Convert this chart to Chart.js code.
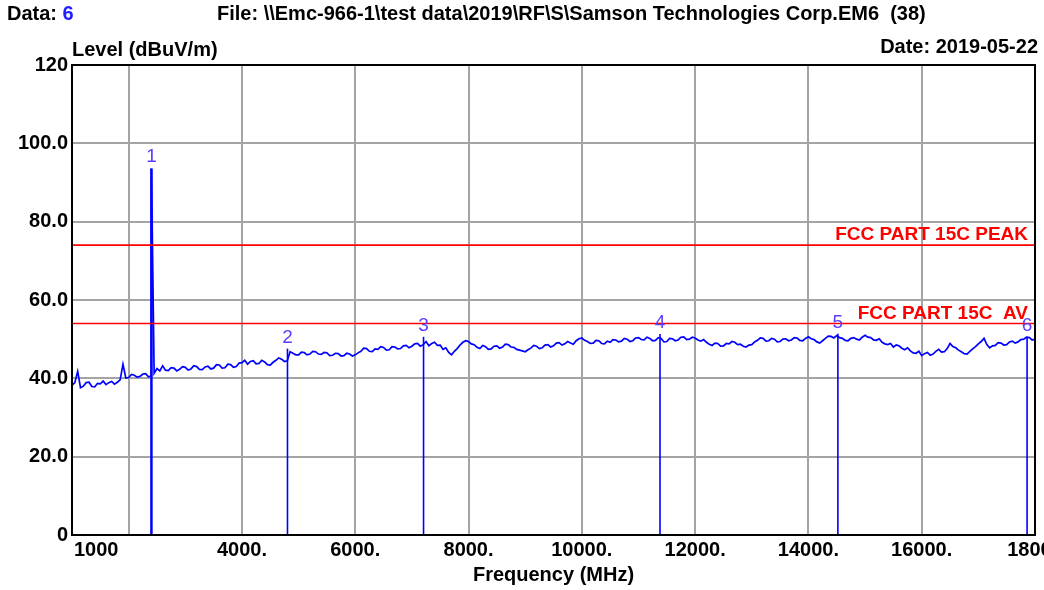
<!DOCTYPE html>
<html>
<head>
<meta charset="utf-8">
<script src="https://cdn.jsdelivr.net/npm/chart.js@4"></script>
<style>
  html, body { margin: 0; padding: 0; background: #fff; }
  #wrap { width: 1044px; height: 590px; }
</style>
</head>
<body>
<div id="wrap"><canvas id="emcChart" width="1044" height="590"></canvas></div>
<script>
// sweep: 1000 - 18000 MHz, one reading every 50 MHz (one row = 1 GHz)
const sweepStart = 1000;
const sweepStep = 50;
const traceLevel = [
  38.2, 38.9, 41.8, 37.6, 38.0, 38.9, 39.0, 37.9, 37.8, 38.7, 38.6, 39.3, 38.4, 38.9, 39.2, 38.5, 39.0, 39.6, 43.6, 40.1,
  40.2, 41.0, 40.8, 40.3, 40.5, 41.1, 41.2, 40.4, 40.6, 41.3, 42.5, 41.9, 43.2, 42.1, 42.0, 42.7, 42.6, 41.9, 42.3, 43.0,
  42.8, 42.1, 42.4, 43.2, 43.0, 42.3, 42.2, 42.9, 43.1, 42.4, 42.6, 43.5, 43.4, 42.6, 42.7, 43.6, 43.5, 42.8, 43.0, 43.9,
  44.0, 44.6, 43.6, 44.3, 44.5, 43.7, 43.8, 44.6, 44.2, 43.5, 43.4, 44.1, 44.6, 45.2, 44.9, 44.3, 44.5, 46.8, 46.4, 46.0,
  46.0, 46.7, 46.6, 46.0, 46.2, 46.9, 46.8, 46.2, 46.1, 46.6, 46.5, 45.8, 45.9, 46.4, 46.3, 45.7, 45.8, 46.4, 46.2, 45.7,
  46.0, 46.5, 46.9, 47.7, 47.6, 46.9, 46.8, 47.5, 47.4, 48.1, 47.9, 47.2, 47.3, 48.1, 48.0, 47.5, 47.6, 48.3, 48.4, 47.8,
  48.2, 48.8, 48.9, 48.2, 48.6, 49.4, 48.3, 48.9, 49.2, 48.4, 48.5, 47.4, 47.8, 46.6, 46.0, 46.9, 47.6, 48.5, 49.2, 49.6,
  49.4, 48.8, 48.6, 47.9, 47.6, 48.4, 48.1, 47.4, 47.5, 48.2, 48.3, 47.7, 48.0, 48.7, 48.6, 48.0, 47.9, 47.4, 47.2, 47.0,
  46.8, 47.3, 47.7, 48.4, 48.2, 47.6, 47.8, 48.5, 48.6, 48.0, 48.3, 49.0, 49.1, 48.5, 48.8, 49.4, 49.0, 48.7, 49.6, 50.1,
  50.3, 49.7, 49.4, 48.9, 49.0, 49.7, 49.6, 48.9, 48.8, 49.5, 49.2, 49.9, 49.8, 49.3, 49.5, 50.2, 50.0, 49.4, 49.6, 50.3,
  50.4, 49.9, 49.8, 50.5, 50.2, 49.6, 49.7, 50.4, 50.2, 49.3, 49.4, 50.2, 50.1, 49.6, 49.8, 50.5, 50.6, 49.9, 50.0, 50.5,
  50.3, 49.8, 49.5, 49.9, 49.2, 48.7, 48.4, 49.0, 48.9, 48.2, 48.3, 48.9, 48.8, 49.4, 49.2, 48.6, 48.7, 48.2, 48.0, 48.5,
  48.6, 49.3, 49.7, 50.3, 50.2, 49.5, 49.6, 50.2, 50.0, 49.3, 49.4, 50.0, 50.1, 49.6, 49.8, 50.4, 50.3, 49.7, 49.6, 50.2,
  50.6, 50.1, 49.9, 49.3, 49.0, 49.6, 50.2, 50.8, 50.7, 50.3, 50.9, 50.4, 50.2, 49.7, 49.6, 50.2, 50.4, 50.0, 49.8, 50.5,
  51.0, 50.5, 50.4, 49.8, 49.7, 50.1, 49.2, 48.8, 48.6, 48.9, 48.0, 48.5, 48.3, 47.7, 47.3, 47.8, 47.0, 46.5, 46.4, 46.9,
  45.8, 46.3, 46.6, 45.9, 46.2, 46.9, 47.4, 46.7, 46.8, 47.6, 48.9, 48.1, 47.8, 47.2, 46.8, 46.3, 46.2, 46.9, 47.5, 48.1,
  48.8, 49.4, 50.2, 48.6, 47.8, 48.3, 48.4, 49.1, 49.0, 48.5, 48.6, 49.3, 49.5, 49.0, 49.3, 49.9, 50.0, 50.5, 50.4, 49.8,
  50.0
];

// markers 1..6
const markerFreq = [2402, 4804, 7206, 11380, 14520, 17860];
const markerLevel = [93.6, 47.6, 50.6, 51.3, 51.4, 50.6];

// limit lines
const limitNames = ["FCC PART 15C PEAK", "FCC PART 15C  AV"];
const limitLevel = [74, 54];

const xTicks = [1000, 2000, 4000, 6000, 8000, 10000, 12000, 14000, 16000, 18000];
const xTickText = ["1000", "", "4000.", "6000.", "8000.", "10000.", "12000.", "14000.", "16000.", "18000"];
const yTicks = [0, 20, 40, 60, 80, 100, 120];
const yTickText = ["0", "20.0", "40.0", "60.0", "80.0", "100.0", "120"];

const FONT = "'Liberation Sans', Arial, sans-serif";

// trace points, with the carrier spike of marker 1 dropped in at its frequency
const tracePoints = [];
traceLevel.forEach((v, i) => {
  const f = sweepStart + i * sweepStep;
  tracePoints.push({ x: f, y: v });
  if (f < markerFreq[0] && f + sweepStep > markerFreq[0]) {
    tracePoints.push({ x: markerFreq[0] - 3, y: markerLevel[0] });
    tracePoints.push({ x: markerFreq[0] + 3, y: markerLevel[0] });
  }
});

const datasets = [];
limitLevel.forEach((lv, i) => {
  datasets.push({
    label: limitNames[i],
    data: [{ x: sweepStart, y: lv }, { x: 18000, y: lv }],
    borderColor: "#ff0000",
    borderWidth: 1.6,
    pointRadius: 0
  });
});
markerFreq.forEach((f, i) => {
  datasets.push({
    label: "Marker " + (i + 1),
    data: [{ x: f, y: 0 }, { x: f, y: markerLevel[i] }],
    borderColor: "#0000ff",
    borderWidth: i === 0 ? 2.5 : 1.6,
    pointRadius: 0
  });
});
datasets.push({
  label: "Level",
  data: tracePoints,
  borderColor: "#0000ff",
  borderWidth: 1.7,
  pointRadius: 0,
  tension: 0
});

// all the text around the plot, placed through the chart's own scales
const decor = {
  id: "decor",
  afterDraw(chart) {
    const ctx = chart.ctx;
    const a = chart.chartArea;
    const xs = chart.scales.x, ys = chart.scales.y;
    ctx.save();

    // frame
    ctx.strokeStyle = "#000";
    ctx.lineWidth = 2;
    ctx.strokeRect(a.left, a.top, a.right - a.left, a.bottom - a.top);

    ctx.fillStyle = "#000";
    ctx.textBaseline = "middle";
    ctx.font = "bold 20px " + FONT;

    // y ticks
    ctx.textAlign = "right";
    yTicks.forEach((v, i) => ctx.fillText(yTickText[i], a.left - 4, ys.getPixelForValue(v)));

    // x ticks
    xTicks.forEach((v, i) => {
      if (!xTickText[i]) return;
      const px = xs.getPixelForValue(v);
      ctx.textAlign = i === 0 ? "left" : "center";
      ctx.fillText(xTickText[i], i === 0 ? px + 2 : px, a.bottom + 15);
    });

    // axis titles
    ctx.textAlign = "center";
    ctx.fillText("Frequency (MHz)", (a.left + a.right) / 2, 575);
    ctx.textAlign = "left";
    ctx.fillText("Level (dBuV/m)", a.left, 50);
    ctx.textAlign = "right";
    ctx.fillText("Date: 2019-05-22", 1038, 47);

    // header
    ctx.textAlign = "left";
    ctx.fillText("Data: ", 7, 14);
    const w = ctx.measureText("Data: ").width;
    ctx.fillStyle = "#2020ff";
    ctx.fillText("6", 7 + w, 14);
    ctx.fillStyle = "#000";
    ctx.fillText("File: \\\\Emc-966-1\\test data\\2019\\RF\\S\\Samson Technologies Corp.EM6  (38)", 217, 14);

    // limit names
    ctx.fillStyle = "#ff0000";
    ctx.font = "bold 19px " + FONT;
    ctx.textAlign = "right";
    ctx.textBaseline = "alphabetic";
    limitLevel.forEach((lv, i) => ctx.fillText(limitNames[i], a.right - 7, ys.getPixelForValue(lv) - 5));

    // marker numbers
    ctx.fillStyle = "#5a40ff";
    ctx.font = "19px " + FONT;
    ctx.textAlign = "center";
    markerFreq.forEach((f, i) => {
      ctx.fillText(String(i + 1), xs.getPixelForValue(f), ys.getPixelForValue(markerLevel[i]) - 6);
    });
    ctx.restore();
  }
};

new Chart(document.getElementById("emcChart"), {
  type: "line",
  data: { datasets },
  options: {
    responsive: false,
    animation: false,
    layout: { padding: { left: 72, right: 9, top: 65, bottom: 55 } },
    plugins: { legend: { display: false }, tooltip: { enabled: false } },
    scales: {
      x: {
        type: "linear",
        min: 1000,
        max: 18000,
        afterBuildTicks: (axis) => { axis.ticks = xTicks.map(v => ({ value: v })); },
        ticks: { display: false },
        grid: { color: "#a4a4a4", lineWidth: 2, drawTicks: false },
        border: { display: false }
      },
      y: {
        min: 0,
        max: 120,
        afterBuildTicks: (axis) => { axis.ticks = yTicks.map(v => ({ value: v })); },
        ticks: { display: false },
        grid: { color: "#a4a4a4", lineWidth: 2, drawTicks: false },
        border: { display: false }
      }
    }
  },
  plugins: [decor]
});
</script>
</body>
</html>
